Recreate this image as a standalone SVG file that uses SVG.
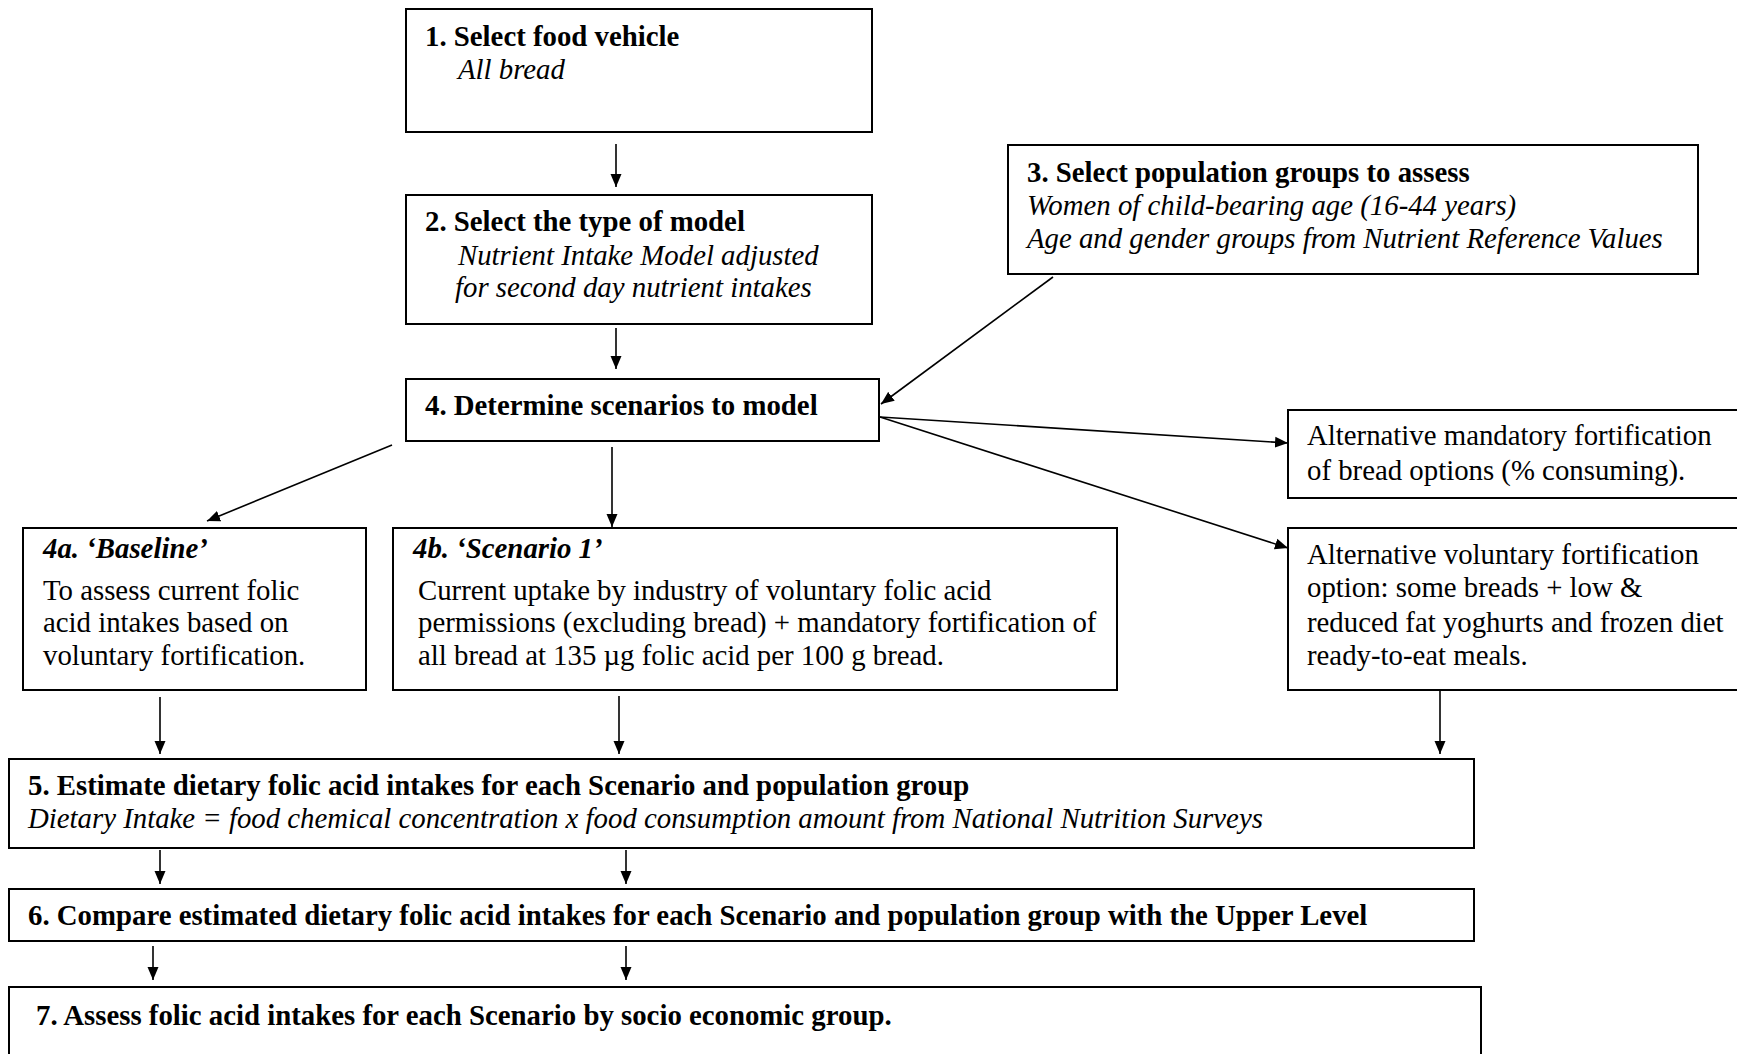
<svg xmlns="http://www.w3.org/2000/svg" width="1737" height="1054" viewBox="0 0 1737 1054">
<style>
.box{fill:#fff;stroke:#000;stroke-width:2}
text{font-family:"Liberation Serif","Times New Roman",serif;font-size:28.8px;fill:#000}
.b{font-weight:bold}
.i{font-style:italic}
.c{stroke:#000;stroke-width:1.6;fill:none;marker-end:url(#ah)}
</style>
<defs>
<marker id="ah" markerUnits="userSpaceOnUse" markerWidth="14" markerHeight="12" refX="13" refY="5.5" orient="auto" viewBox="0 0 14 11">
<path d="M0,0 L13,5.5 L0,11 z" fill="#000"/>
</marker>
</defs>
<rect width="1737" height="1054" fill="#fff"/>
<g id="connectors">
<line class="c" x1="616" y1="144" x2="616" y2="187"/>
<line class="c" x1="616" y1="328" x2="616" y2="369"/>
<line class="c" x1="1053" y1="277" x2="881" y2="404"/>
<line class="c" x1="880" y1="417" x2="1288" y2="443"/>
<line class="c" x1="880" y1="417" x2="1288" y2="548"/>
<line class="c" x1="392" y1="445" x2="207" y2="521"/>
<line class="c" x1="612" y1="447" x2="612" y2="527"/>
<line class="c" x1="160" y1="697" x2="160" y2="754"/>
<line class="c" x1="619" y1="696" x2="619" y2="754"/>
<line class="c" x1="1440" y1="690" x2="1440" y2="754"/>
<line class="c" x1="160" y1="850" x2="160" y2="884"/>
<line class="c" x1="626" y1="850" x2="626" y2="884"/>
<line class="c" x1="153" y1="946" x2="153" y2="980"/>
<line class="c" x1="626" y1="946" x2="626" y2="980"/>
</g>
<g id="n1">
<rect class="box" x="406" y="9" width="466" height="123"/>
<text class="b" x="425" y="46">1. Select food vehicle</text>
<text class="i" x="458" y="79">All bread</text>
</g>
<g id="n2">
<rect class="box" x="406" y="195" width="466" height="129"/>
<text class="b" x="425" y="231">2. Select the type of model</text>
<text class="i" x="458" y="265">Nutrient Intake Model adjusted</text>
<text class="i" x="455" y="297">for second day nutrient intakes</text>
</g>
<g id="n3">
<rect class="box" x="1008" y="145" width="690" height="129"/>
<text class="b" x="1027" y="182">3. Select population groups to assess</text>
<text class="i" x="1027" y="215">Women of child-bearing age (16-44 years)</text>
<text class="i" x="1027" y="248">Age and gender groups from Nutrient Reference Values</text>
</g>
<g id="n4">
<rect class="box" x="406" y="379" width="473" height="62"/>
<text class="b" x="425" y="415">4. Determine scenarios to model</text>
</g>
<g id="n4alt1">
<rect class="box" x="1288" y="410" width="460" height="88"/>
<text x="1307" y="445">Alternative mandatory fortification</text>
<text x="1307" y="480">of bread options (% consuming).</text>
</g>
<g id="n4alt2">
<rect class="box" x="1288" y="528" width="460" height="162"/>
<text x="1307" y="564">Alternative voluntary fortification</text>
<text x="1307" y="597">option: some breads + low &amp;</text>
<text x="1307" y="632">reduced fat yoghurts and frozen diet</text>
<text x="1307" y="665">ready-to-eat meals.</text>
</g>
<g id="n4a">
<rect class="box" x="23" y="528" width="343" height="162"/>
<text class="b i" x="43" y="558">4a. ‘Baseline’</text>
<text x="43" y="600">To assess current folic</text>
<text x="43" y="632">acid intakes based on</text>
<text x="43" y="665">voluntary fortification.</text>
</g>
<g id="n4b">
<rect class="box" x="393" y="528" width="724" height="162"/>
<text class="b i" x="413" y="558">4b. ‘Scenario 1’</text>
<text x="418" y="600">Current uptake by industry of voluntary folic acid</text>
<text x="418" y="632">permissions (excluding bread) + mandatory fortification of</text>
<text x="418" y="665">all bread at 135 µg folic acid per 100 g bread.</text>
</g>
<g id="n5">
<rect class="box" x="9" y="759" width="1465" height="89"/>
<text class="b" x="28" y="795">5. Estimate dietary folic acid intakes for each Scenario and population group</text>
<text class="i" x="28" y="828">Dietary Intake = food chemical concentration x food consumption amount from National Nutrition Surveys</text>
</g>
<g id="n6">
<rect class="box" x="9" y="889" width="1465" height="52"/>
<text class="b" x="28" y="925">6. Compare estimated dietary folic acid intakes for each Scenario and population group with the Upper Level</text>
</g>
<g id="n7">
<rect class="box" x="9" y="987" width="1472" height="80"/>
<text class="b" x="36" y="1025">7. Assess folic acid intakes for each Scenario by socio economic group.</text>
</g>
</svg>
